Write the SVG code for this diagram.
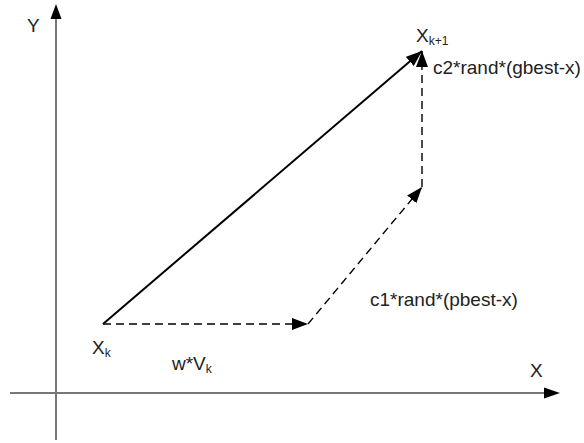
<svg xmlns="http://www.w3.org/2000/svg" width="584" height="443" viewBox="0 0 584 443">
<defs>
<marker id="ah" markerUnits="userSpaceOnUse" markerWidth="16" markerHeight="12" refX="16" refY="6" orient="auto">
<path d="M0,0 L16,6 L0,12 Z" fill="#000"/>
</marker>
<style>
.lbl{font-family:"Liberation Sans",Arial,sans-serif;font-size:19px;fill:#222}
.sub{font-size:12px}
.axis{stroke:#777;stroke-width:2;fill:none}
.vec{stroke:#000;stroke-width:2;fill:none}
.dash{stroke:#000;stroke-width:1.4;fill:none;stroke-dasharray:8,5}
</style>
</defs>
<g id="axes">
<line class="axis" x1="56" y1="440" x2="56" y2="18"/>
<polygon points="56,4 50.5,19 61.5,19" fill="#000"/>
<line class="axis" x1="10" y1="393" x2="546" y2="393"/>
<polygon points="560,393 544,387.5 544,398.5" fill="#000"/>
<text class="lbl" x="27" y="32">Y</text>
<text class="lbl" x="530" y="377">X</text>
</g>
<g id="connectors">
<line class="vec" x1="103" y1="324" x2="422" y2="51" marker-end="url(#ah)"/>
<line class="dash" x1="103" y1="324" x2="308" y2="324" marker-end="url(#ah)"/>
<line class="dash" x1="308" y1="324" x2="422" y2="187" marker-end="url(#ah)"/>
<line class="dash" x1="422" y1="187" x2="422" y2="51" marker-end="url(#ah)"/>
</g>
<g id="node-xk"><text class="lbl" x="92" y="354">X<tspan class="sub" dy="3">k</tspan></text></g>
<g id="node-wvk"><text class="lbl" x="172" y="370">w*V<tspan class="sub" dy="3">k</tspan></text></g>
<g id="node-c1"><text class="lbl" x="370" y="306">c1*rand*(pbest-x)</text></g>
<g id="node-c2"><text class="lbl" x="433" y="74">c2*rand*(gbest-x)</text></g>
<g id="node-xk1"><text class="lbl" x="416" y="42">X<tspan class="sub" dy="3">k+1</tspan></text></g>
</svg>
